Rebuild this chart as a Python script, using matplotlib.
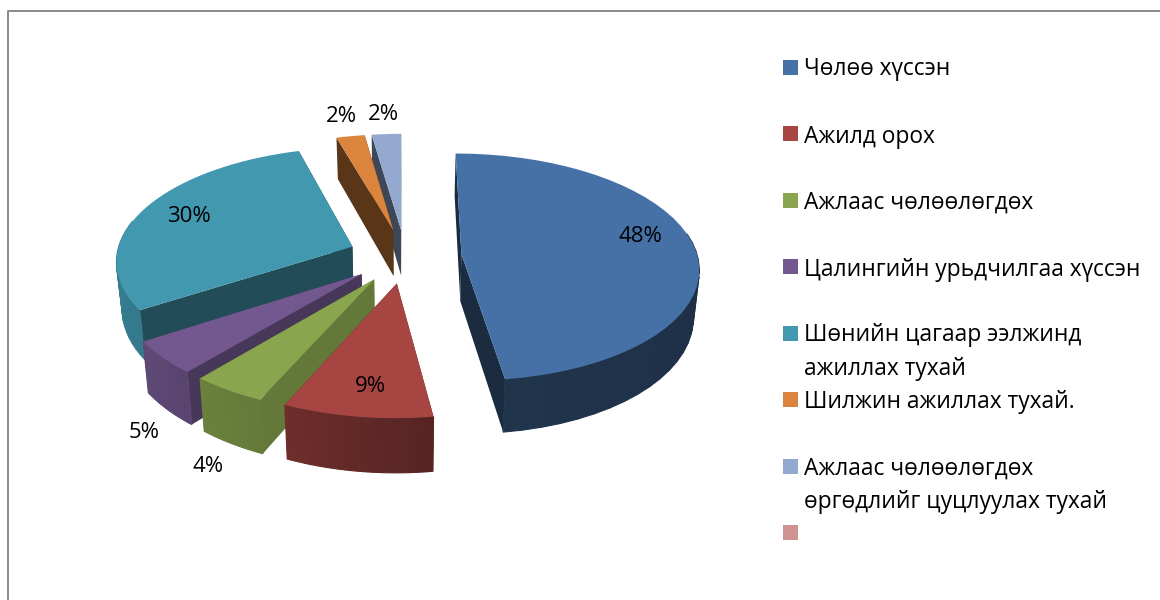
import numpy as np
import matplotlib
matplotlib.use("Agg")
import matplotlib.pyplot as plt
from matplotlib.colors import to_rgb
from matplotlib.patches import Polygon, Rectangle

categories = ["Чөлөө хүссэн", "Ажилд орох", "Ажлаас чөлөөлөгдөх",
              "Цалингийн урьдчилгаа хүссэн", "Шөнийн цагаар ээлжинд\nажиллах тухай",
              "Шилжин ажиллах тухай.", "Ажлаас чөлөөлөгдөх\nөргөдлийг цуцлуулах тухай", ""]
# labels show whole percents, slice sizes estimated a bit finer from the picture
values = [47.8, 8.9, 4.45, 4.75, 29.6, 2.2, 2.3, 0]
colors = ["#4571a6", "#a64542", "#89a54e", "#73588f", "#4198af", "#db843d", "#93a9cf", "#d19392"]

# how dark the cut faces and the two ends of the outer wall are, per slice
cut_shade = [0.39, 0.5, 0.73, 0.62, 0.5, 0.41, 0.42]
wall_shade = [(0.36, 0.46), (0.52, 0.66), (0.74, 0.78), (0.78, 0.82), (0.8, 0.88), (0.6, 0.6), (0.6, 0.6)]

# label and legend spots in pixels
label_xy = [(640, 237), (370, 387), (208, 466), (144, 432), (189, 217), (341, 117), (383, 114)]
legend_y = [67.5, 133.5, 200.5, 266.5, 333.5, 399.5, 466.5, 532.5]
legend_text_y = [69, 137, 203, 270, 352, 402, 485.5, None]

CX, CY = 405, 256
RX, A, K = 236, 112.5, 0.114
EXPLODE = 0.24
HEIGHT = 47
INSET = 0.02


def project(x, y, z=0):
    s = 1 / (1 - K * y)
    px = CX + RX * x * s
    return CX + (px - CX) * (1 - INSET * z), CY + A * y * s + z * HEIGHT * s


def shade(c, f):
    return tuple(v * f for v in to_rgb(c))


fig = plt.figure(figsize=(11.6, 6), dpi=100)
ax = fig.add_axes([0, 0, 1, 1])
ax.set_xlim(0, 1160)
ax.set_ylim(600, 0)
ax.axis("off")

# frame, open on the right and at the bottom
ax.plot([8, 8, 1160], [600, 11, 11], color="#8a8a8a", lw=1.4)

# angles run clockwise from the top of the pie
edges = np.cumsum([0] + values[:-1]) / 100 * 2 * np.pi

slices = []
for i in range(7):
    a0, a1 = edges[i], edges[i + 1]
    mid = (a0 + a1) / 2
    ox, oy = EXPLODE * np.sin(mid), -EXPLODE * np.cos(mid)
    t = np.linspace(a0, a1, 40)
    slices.append((oy, i, t, ox, oy))

# back slices first
for _, i, t, ox, oy in sorted(slices, key=lambda s: s[0]):
    xs = ox + np.sin(t)
    ys = oy - np.cos(t)
    c = colors[i]
    # cut faces
    for x, y in ((xs[0], ys[0]), (xs[-1], ys[-1])):
        pts = [project(ox, oy), project(x, y), project(x, y, 1), project(ox, oy, 1)]
        ax.add_patch(Polygon(pts, fc=shade(c, cut_shade[i]), ec="none", zorder=2))
    # outer wall in short strips so the shade can change along it
    f0, f1 = wall_shade[i]
    for j in range(len(t) - 1):
        # the back of the rim is hidden by the top face
        if np.cos(t[j]) > 0.2:
            continue
        col = shade(c, f0 + (f1 - f0) * j / (len(t) - 2))
        pts = [project(xs[j], ys[j]), project(xs[j + 1], ys[j + 1]),
               project(xs[j + 1], ys[j + 1], 1), project(xs[j], ys[j], 1)]
        ax.add_patch(Polygon(pts, fc=col, ec=col, lw=0.8, zorder=2))
    # top face
    top = [project(ox, oy)] + [project(x, y) for x, y in zip(xs, ys)]
    ax.add_patch(Polygon(top, fc=c, ec="none", zorder=3))

for (x, y), v in zip(label_xy, values):
    ax.text(x, y, f"{v:.0f}%", ha="center", va="center", fontsize=16, family="Open Sans", zorder=5)

for i, name in enumerate(categories):
    ax.add_patch(Rectangle((783, legend_y[i] - 7.5), 15, 15, fc=colors[i], ec="none"))
    if name:
        ax.text(804, legend_text_y[i], name, ha="left", va="center", fontsize=16.4,
                family="Open Sans", linespacing=1.55)

fig.savefig("out.png", dpi=100)
